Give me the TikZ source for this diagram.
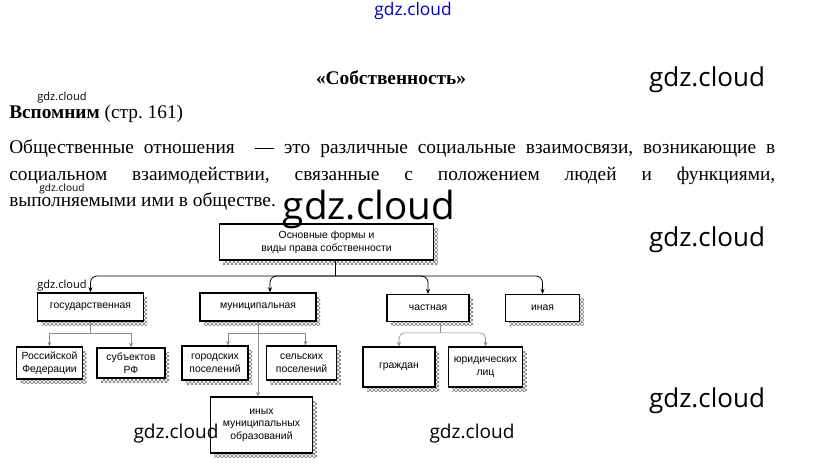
\documentclass[tikz,border=0pt]{standalone}
\usepackage{fontspec}
\setmainfont{Liberation Serif}
\setsansfont{Liberation Sans}
\newfontfamily\wmfont{Open Sans}
\usetikzlibrary{positioning,calc,arrows.meta,shadows,patterns}
\frenchspacing

\begin{document}
\begin{tikzpicture}[
    x=0.75pt, y=-0.75pt,
    txt/.style={font=\fontsize{14.5}{17}\selectfont, inner sep=0pt},
    wm/.style={font=\wmfont\fontsize{#1}{#1}\selectfont, inner sep=0pt},
    box/.style={draw, line width=0.8pt, fill=white, align=center, inner sep=1pt,
      font=\sffamily\fontsize{7.8}{9.5}\selectfont,
      drop shadow={shadow xshift=3pt, shadow yshift=-3pt, pattern=crosshatch,
        pattern color=black!55, opacity=1}},
    arr/.style={-{Stealth[length=4pt,width=3pt]}, line width=0.6pt},
    sub/.style={-{Stealth[length=3.5pt,width=3pt]}, line width=0.5pt, black!45},
]
\useasboundingbox (0,0) rectangle (823,468);

% header and text
\node[txt, font=\bfseries\fontsize{14.5}{17}\selectfont] (title) at (391,78) {«Собственность»};
\node[txt, anchor=west] (recall) at (9,114) {\textbf{Вспомним} (стр. 161)};
\node[txt, anchor=west] (line1) at (9,149)
  {\makebox[574.5pt][s]{Общественные отношения \ — это различные социальные взаимосвязи, возникающие в}};
\node[txt, anchor=west] (line2) at (9,176)
  {\makebox[574.5pt][s]{социальном взаимодействии, связанные с положением людей и функциями,}};
\node[txt, anchor=west] (line3) at (9,202) {выполняемыми ими в обществе.};

% diagram
\node[box, minimum width=161pt, minimum height=27pt] (root) at (326.5,242)
  {Основные формы и\\виды права собственности};
\node[box, minimum width=79pt, minimum height=21pt] (gos) at (90.5,307) {государственная};
\node[box, minimum width=87pt, minimum height=21pt] (mun) at (258,307) {муниципальная};
\node[box, minimum width=61.5pt, minimum height=20pt] (chast) at (428,308) {частная};
\node[box, minimum width=56pt, minimum height=20pt] (ina) at (542.5,308) {иная};

\node[box, minimum width=49.5pt, minimum height=24pt] (rf) at (49.5,363) {Российской\\Федерации};
\node[box, minimum width=51pt, minimum height=22.5pt] (subj) at (131,363) {субъектов\\РФ};
\node[box, minimum width=49.5pt, minimum height=25.5pt] (gor) at (215,363) {городских\\поселений};
\node[box, minimum width=53pt, minimum height=25.5pt] (sel) at (301.5,363) {сельских\\поселений};
\node[box, minimum width=54pt, minimum height=30pt] (grazh) at (399,367) {граждан};
\node[box, minimum width=56pt, minimum height=30pt] (yur) at (485.5,367) {юридических\\лиц};
\node[box, minimum width=77pt, minimum height=42pt] (inyh) at (261.5,425)
  {иных\\муниципальных\\образований};

\coordinate (bus) at (335,276);
\draw[line width=0.6pt, rounded corners=3pt] (root.south -| bus) -- (bus);
\draw[arr, rounded corners=5pt] (bus) -| (gos.north);
\draw[arr, rounded corners=5pt] (bus) -| ($(mun.north)+(12,0)$);
\draw[arr, rounded corners=5pt] (bus) -| (chast.north);
\draw[arr, rounded corners=5pt] (bus) -| (ina.north);

\coordinate (gbus) at ($(gos.south)+(0,12)$);
\draw[sub, -] (gos.south) -- (gbus);
\draw[sub] (gbus) -| (rf.north);
\draw[sub] (gbus) -| (subj.north);

\coordinate (mbus) at ($(mun.south)+(0,12)$);
\draw[sub, -] (mun.south) -- (mbus);
\draw[sub] (mbus) -| ($(gor.north)+(13,0)$);
\draw[sub] (mbus) -| ($(sel.north)+(4,0)$);
\draw[sub] (mun.south) -- (mun.south |- inyh.north);

\coordinate (cbus) at ($(chast.south)+(12,11)$);
\draw[sub, -] ($(chast.south)+(12,0)$) -- (cbus);
\draw[sub, rounded corners=4pt] (cbus) -| (grazh.north);
\draw[sub, rounded corners=4pt] (cbus) -| (yur.north);

% watermarks
\node[wm=13, blue!75!black] (wtop) at (413,11) {gdz.cloud};
\node[wm=19.5] (wr1) at (707,80) {gdz.cloud};
\node[wm=19.5] (wr2) at (707,240) {gdz.cloud};
\node[wm=19.5] (wr3) at (707,401) {gdz.cloud};
\node[wm=8.3] (ws1) at (62,98) {gdz.cloud};
\node[wm=7.6] (ws2) at (62,188.5) {gdz.cloud};
\node[wm=8.3] (ws3) at (62,286) {gdz.cloud};
\node[wm=29] (wbig) at (369,209) {gdz.cloud};
\node[wm=14.3] (wb1) at (176,434) {gdz.cloud};
\node[wm=14.3] (wb2) at (472,434) {gdz.cloud};
\end{tikzpicture}
\end{document}
